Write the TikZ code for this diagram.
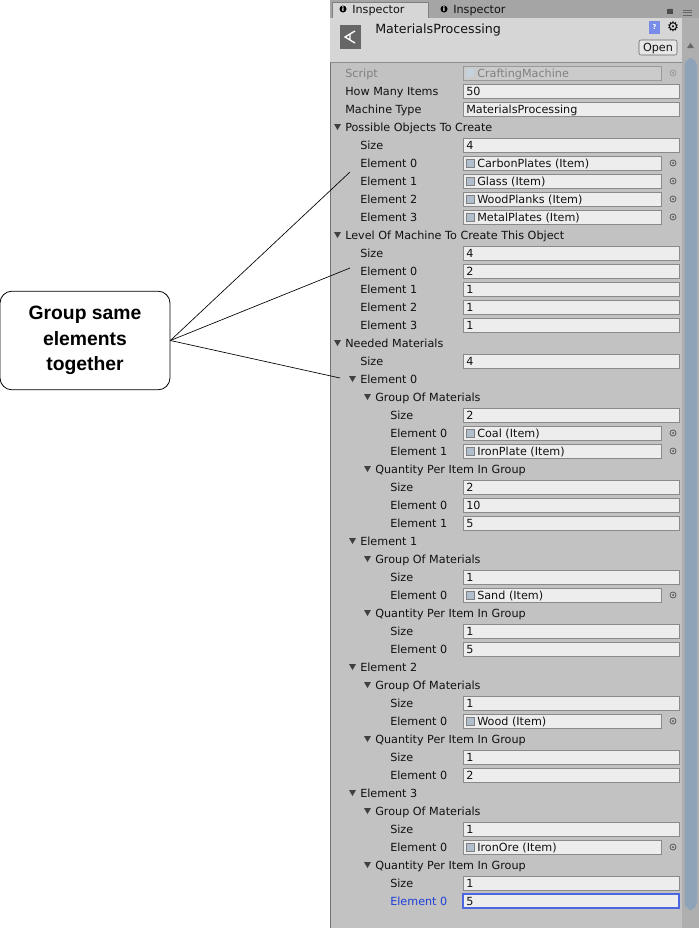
\documentclass[tikz,border=0pt]{standalone}
\usepackage{fontspec}
\setmainfont{DejaVu Sans}
\newfontfamily\callfont{Liberation Sans}
\definecolor{panel}{HTML}{C2C2C2}
\definecolor{hdr}{HTML}{D6D6D6}
\definecolor{tabbar}{HTML}{A5A5A5}
\definecolor{fld}{HTML}{EDEDED}
\definecolor{fldline}{HTML}{8A8A8A}
\definecolor{txt}{HTML}{111111}
\definecolor{unityblue}{HTML}{1F3FD8}
\definecolor{scroll}{HTML}{8FA3B8}
\tikzset{
 lbl/.style={anchor=base west,inner sep=0,font=\fontsize{8.4}{9}\selectfont,text=txt},
 fldbox/.style={draw=fldline,fill=fld,line width=0.5pt},
 val/.style={anchor=base west,inner sep=0,font=\fontsize{8.4}{9}\selectfont,text=txt},
 call/.style={draw=black,line width=0.6pt,rounded corners=9pt,fill=white,minimum width=127.5pt,minimum height=74pt,align=center,font=\callfont\bfseries\fontsize{14.5}{19}\selectfont},
 callline/.style={draw=black,line width=0.5pt}
}
\newcommand\RY[1]{\the\numexpr73+18*#1\relax}
\newcommand\Lb[3]{\node[lbl] (l#1) at ({345+15*#2},{\RY{#1}+4}) {#3};}
\newcommand\Fo[3]{\fill[black!75] ({334+15*#2},{\RY{#1}-3}) -- ({341+15*#2},{\RY{#1}-3}) -- ({337.5+15*#2},{\RY{#1}+3}) -- cycle;\Lb{#1}{#2}{#3}}
\newcommand\Fd[2]{\draw[fldbox] (463,{\RY{#1}-7}) rectangle (679,{\RY{#1}+7});\node[val] (v#1) at (466,{\RY{#1}+4}) {#2};}
\newcommand\Ob[2]{\draw[fldbox] (463,{\RY{#1}-7}) rectangle (661,{\RY{#1}+7});
 \fill[scroll!70] (466,{\RY{#1}-4}) rectangle (474,{\RY{#1}+4});\draw[black!50,line width=0.3pt] (466,{\RY{#1}-4}) rectangle (474,{\RY{#1}+4});
 \node[val] (v#1) at (477,{\RY{#1}+4}) {#2};
 \draw[black!70,line width=0.5pt] (673,{\RY{#1}}) circle (3);\fill[black!70] (673,{\RY{#1}}) circle (1);}
\begin{document}
\begin{tikzpicture}[x=0.75pt,y=-0.75pt]
\useasboundingbox (0,0) rectangle (699,928);
\fill[white] (0,0) rectangle (699,928);
\fill[panel] (330,0) rectangle (699,928);
\draw[black!55] (330,0) -- (330,928);
% tabs
\fill[tabbar] (330,0) rectangle (699,18);
\fill[hdr] (332,2) rectangle (428,18);
\draw[black!50] (332,18) -- (332,2) -- (428,2) -- (428,18);
\fill[black] (343,9) circle (3.5);\node[text=white,font=\bfseries\fontsize{5}{5}\selectfont,inner sep=0] at (343,9) {i};
\node[lbl] (tab1) at (352,13.5) {Inspector};
\fill[black] (444,9) circle (3.5);\node[text=white,font=\bfseries\fontsize{5}{5}\selectfont,inner sep=0] at (444,9) {i};
\node[lbl] (tab2) at (453,13.5) {Inspector};
\fill[black!70] (667,9) rectangle (673,14);\draw[black!70,line width=1pt] (668.5,9) arc (180:0:1.5);
\draw[black!60,line width=0.6pt] (683,10)--(692,10) (683,12.5)--(692,12.5) (683,15)--(692,15);
% header
\fill[hdr] (330,18) rectangle (699,62);
\draw[black!45] (330,62) -- (699,62);
\fill[black!60] (340,25) rectangle (361,49);
\draw[white,line width=1pt] (355,31) -- (345,37) -- (355,43) (350,34)--(350,40);
\node[lbl,font=\fontsize{9.5}{10}\selectfont] (title) at (375,33) {MaterialsProcessing};
\fill[unityblue!60] (649,21) rectangle (660,34);\node[font=\bfseries\fontsize{5}{5}\selectfont,text=white,inner sep=0] at (654.5,27.5) {?};
\node[font=\fontsize{10}{10}\selectfont,inner sep=0] (gear) at (673,27) {⚙};
\draw[black!60,fill=hdr!60!white,rounded corners=1.5pt] (639,40) rectangle (677,55);
\node[val,anchor=base] (open) at (658,51) {Open};
% scrollbar
\fill[panel!90!black] (682,18) rectangle (699,928);
\fill[black!60] (687,48) -- (694,48) -- (690.5,43) -- cycle;
\fill[scroll] (684.5,58) [rounded corners=6pt] rectangle (697,910);
% rows
\node[lbl,text=black!50] (l0) at (345,77) {Script};
\draw[black!40,fill=panel!85!white] (463,66) rectangle (661,80);
\fill[scroll!50] (466,69) rectangle (474,77);
\node[val,text=black!50] (v0) at (477,77) {CraftingMachine};
\draw[black!45] (673,73) circle (3);\fill[black!45] (673,73) circle (1);
\Lb{1}{0}{How Many Items}\Fd{1}{50}
\Lb{2}{0}{Machine Type}\Fd{2}{MaterialsProcessing}
\Fo{3}{0}{Possible Objects To Create}
\Lb{4}{1}{Size}\Fd{4}{4}
\Lb{5}{1}{Element 0}\Ob{5}{CarbonPlates (Item)}
\Lb{6}{1}{Element 1}\Ob{6}{Glass (Item)}
\Lb{7}{1}{Element 2}\Ob{7}{WoodPlanks (Item)}
\Lb{8}{1}{Element 3}\Ob{8}{MetalPlates (Item)}
\Fo{9}{0}{Level Of Machine To Create This Object}
\Lb{10}{1}{Size}\Fd{10}{4}
\Lb{11}{1}{Element 0}\Fd{11}{2}
\Lb{12}{1}{Element 1}\Fd{12}{1}
\Lb{13}{1}{Element 2}\Fd{13}{1}
\Lb{14}{1}{Element 3}\Fd{14}{1}
\Fo{15}{0}{Needed Materials}
\Lb{16}{1}{Size}\Fd{16}{4}
\Fo{17}{1}{Element 0}
\Fo{18}{2}{Group Of Materials}
\Lb{19}{3}{Size}\Fd{19}{2}
\Lb{20}{3}{Element 0}\Ob{20}{Coal (Item)}
\Lb{21}{3}{Element 1}\Ob{21}{IronPlate (Item)}
\Fo{22}{2}{Quantity Per Item In Group}
\Lb{23}{3}{Size}\Fd{23}{2}
\Lb{24}{3}{Element 0}\Fd{24}{10}
\Lb{25}{3}{Element 1}\Fd{25}{5}
\Fo{26}{1}{Element 1}
\Fo{27}{2}{Group Of Materials}
\Lb{28}{3}{Size}\Fd{28}{1}
\Lb{29}{3}{Element 0}\Ob{29}{Sand (Item)}
\Fo{30}{2}{Quantity Per Item In Group}
\Lb{31}{3}{Size}\Fd{31}{1}
\Lb{32}{3}{Element 0}\Fd{32}{5}
\Fo{33}{1}{Element 2}
\Fo{34}{2}{Group Of Materials}
\Lb{35}{3}{Size}\Fd{35}{1}
\Lb{36}{3}{Element 0}\Ob{36}{Wood (Item)}
\Fo{37}{2}{Quantity Per Item In Group}
\Lb{38}{3}{Size}\Fd{38}{1}
\Lb{39}{3}{Element 0}\Fd{39}{2}
\Fo{40}{1}{Element 3}
\Fo{41}{2}{Group Of Materials}
\Lb{42}{3}{Size}\Fd{42}{1}
\Lb{43}{3}{Element 0}\Ob{43}{IronOre (Item)}
\Fo{44}{2}{Quantity Per Item In Group}
\Lb{45}{3}{Size}\Fd{45}{1}
\node[lbl,text=unityblue] (l46) at (390,905) {Element 0};
\draw[fldbox,draw=unityblue!80,line width=0.8pt] (463,894) rectangle (679,908);
\node[val] (v46) at (466,905) {5};
% callout
\node[call] (callout) at (85,340.5) {Group same\\elements\\together};
\coordinate (c1) at (350,172);
\coordinate (c2) at (350,268);
\coordinate (c3) at (340,378);
\draw[callline] (callout.east) -- (c1);
\draw[callline] (callout.east) -- (c2);
\draw[callline] (callout.east) -- (c3);
\end{tikzpicture}
\end{document}
